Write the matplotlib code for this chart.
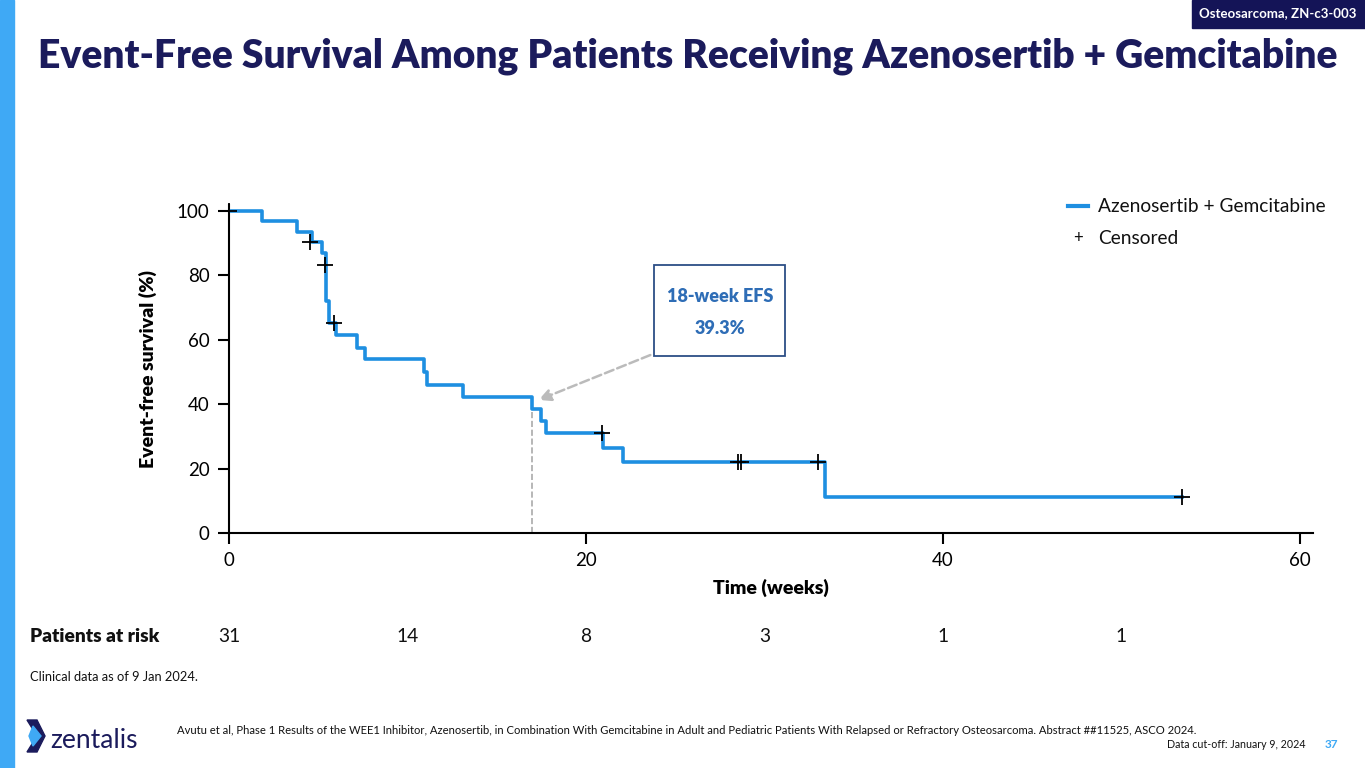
import numpy as np
import matplotlib.pyplot as plt
from matplotlib.patches import Rectangle, Polygon

plt.rcParams['font.family'] = ['Lato', 'DejaVu Sans']

# step curve (time in weeks, EFS %)
step_t = [0, 1.83, 3.79, 4.63, 5.23, 5.43, 5.62, 5.98, 7.19, 7.62, 10.92, 11.07,
          13.12, 16.96, 17.46, 17.74, 20.97, 22.06, 33.39, 53.37]
step_s = [100, 96.8, 93.5, 90.3, 86.9, 72.0, 65.3, 61.5, 57.4, 54.0, 50.1, 46.0,
          42.3, 38.4, 34.8, 31.0, 26.5, 22.1, 11.1, 11.1]

# censored marks
cens_t = [0, 4.54, 5.38, 5.88, 20.88, 28.53, 28.67, 33.0, 53.37]
cens_s = [100, 90.3, 83.2, 65.3, 31.0, 22.1, 22.1, 22.1, 11.1]

# patients at risk
risk_t = [0, 10, 20, 30, 40, 50]
risk_n = [31, 14, 8, 3, 1, 1]

mark_t = 16.96
mark_s = 42.3

blue = "#1E8FE1"
navy = "#1B1B5C"

fig = plt.figure(figsize=(13.65, 7.68), dpi=100)

# left accent bar and top tag
fig.patches.append(Rectangle((0, 0), 14 / 1365, 1, transform=fig.transFigure,
                             color="#3FA9F5", zorder=0))
fig.patches.append(Rectangle((1192 / 1365, 1 - 28 / 768), 173 / 1365, 28 / 768,
                             transform=fig.transFigure, color="#141457", zorder=0))
fig.text(1278 / 1365, 1 - 13 / 768, "Osteosarcoma, ZN-c3-003", color="white",
         fontsize=9.5, fontweight="bold", ha="center", va="center")

# title
fig.text(688 / 1365, 1 - 56 / 768,
         "Event-Free Survival Among Patients Receiving Azenosertib + Gemcitabine",
         color=navy, fontsize=28.1, fontweight="heavy", ha="center", va="center")

# axes
ax = fig.add_axes([229 / 1365, 1 - 533 / 768, 1084 / 1365, (533 - 204.6) / 768])
ax.step(step_t, step_s, where="post", color=blue, linewidth=2.6, zorder=3)
ax.plot(cens_t, cens_s, "k+", markersize=12, markeredgewidth=1.3, zorder=4,
        clip_on=False)
ax.plot([mark_t, mark_t], [0, mark_s], color="#AAAAAA", linestyle="--",
        linewidth=1.2, zorder=2)

ax.set_xlim(0, 60.73)
ax.set_ylim(0, 102)
ax.set_xticks([0, 20, 40, 60])
ax.set_yticks([0, 20, 40, 60, 80, 100])
ax.spines["top"].set_visible(False)
ax.spines["right"].set_visible(False)
ax.spines["left"].set_linewidth(1.5)
ax.spines["bottom"].set_linewidth(1.5)
ax.tick_params(axis="both", direction="out", length=8, width=1.5,
               labelsize=13.5, pad=6)
ax.set_xlabel("Time (weeks)", fontsize=14, fontweight="heavy", labelpad=7)
ax.set_ylabel("Event-free survival (%)", fontsize=14, fontweight="heavy",
              labelpad=14)

# callout box
ax.text(27.5, 73.5, "18-week EFS", color="#2E6DB6", fontsize=13,
        fontweight="heavy", ha="center", va="center")
ax.text(27.5, 63.5, "39.3%", color="#2E6DB6", fontsize=13,
        fontweight="heavy", ha="center", va="center")
ax.add_patch(Rectangle((23.8, 55.0), 7.35, 28.2, fill=False,
                       edgecolor="#2C4E86", linewidth=1.3, clip_on=False))
ax.annotate("", xy=(17.2, 41.0), xytext=(23.75, 55.6),
            arrowprops=dict(arrowstyle="-|>", color="#BBBBBB", linestyle="--",
                            linewidth=1.8, mutation_scale=18))

# legend
fig.lines.append(plt.Line2D([1068 / 1365, 1088 / 1365], [1 - 206 / 768, 1 - 206 / 768],
                            transform=fig.transFigure, color=blue, linewidth=3))
fig.text(1098 / 1365, 1 - 206 / 768, "Azenosertib + Gemcitabine", fontsize=13.8,
         va="center", ha="left", color="#111111")
fig.text(1078 / 1365, 1 - 238 / 768, "+", fontsize=12, va="center", ha="center",
         color="#111111")
fig.text(1098 / 1365, 1 - 238 / 768, "Censored", fontsize=13.8, va="center",
         ha="left", color="#111111")

# patients at risk
fig.text(30 / 1365, 1 - 637 / 768, "Patients at risk", fontsize=13.8,
         fontweight="heavy", va="center", ha="left", color="#111111")
for t, n in zip(risk_t, risk_n):
    x_fig = (229 + t * (1300 - 229) / 60) / 1365
    fig.text(x_fig, 1 - 637 / 768, str(n), fontsize=13.8, va="center",
             ha="center", color="#111111")

# footer text
fig.text(30 / 1365, 1 - 677 / 768, "Clinical data as of 9 Jan 2024.", fontsize=9.3,
         va="center", ha="left", color="#111111")
fig.text(177 / 1365, 1 - 731 / 768,
         "Avutu et al, Phase 1 Results of the WEE1 Inhibitor, Azenosertib, in Combination "
         "With Gemcitabine in Adult and Pediatric Patients With Relapsed or Refractory "
         "Osteosarcoma. Abstract ##11525, ASCO 2024.",
         fontsize=8.1, va="center", ha="left", color="#111111")
fig.text(1306 / 1365, 1 - 745 / 768, "Data cut-off: January 9, 2024", fontsize=7.7,
         va="center", ha="right", color="#111111")
fig.text(1331 / 1365, 1 - 745 / 768, "37", fontsize=8.5, fontweight="bold",
         va="center", ha="center", color="#3FA9F5")

# logo
def fpt(x, y):
    return (x / 1365, 1 - y / 768)

fig.patches.append(Polygon([fpt(27, 720), fpt(37, 720), fpt(45, 736), fpt(37, 736)],
                           closed=True, transform=fig.transFigure, color=navy))
fig.patches.append(Polygon([fpt(37, 736), fpt(45, 736), fpt(37, 752), fpt(27, 752)],
                           closed=True, transform=fig.transFigure, color=navy))
fig.patches.append(Polygon([fpt(33, 726), fpt(41, 736), fpt(33, 746), fpt(29, 736)],
                           closed=True, transform=fig.transFigure, color="#3FA9F5"))
fig.text(50 / 1365, 1 - 740 / 768, "zentalis", fontsize=19, va="center",
         ha="left", color=navy)

fig.savefig("out.png", dpi=100)
